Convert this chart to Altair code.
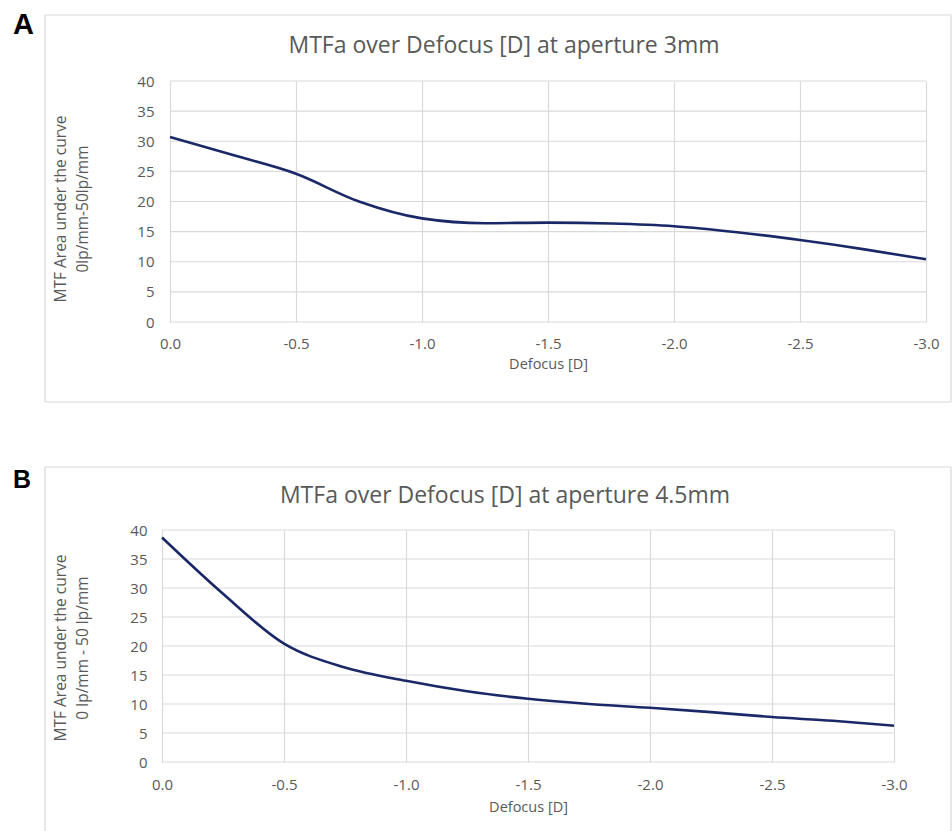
import altair as alt
import pandas as pd

# ---------------- data ----------------
defocus = [0.0, -0.25, -0.5, -0.75, -1.0, -1.25, -1.5, -1.75, -2.0, -2.25, -2.5, -2.75, -3.0]
mtfa_3mm = [30.7, 27.7, 24.6, 20.0, 17.2, 16.4, 16.5, 16.35, 15.9, 14.9, 13.6, 12.1, 10.4]
mtfa_45mm = [38.7, 29.0, 20.4, 16.3, 14.0, 12.2, 10.9, 10.0, 9.35, 8.6, 7.75, 7.1, 6.25]

x_ticks = [0.0, -0.5, -1.0, -1.5, -2.0, -2.5, -3.0]
y_ticks = [0, 5, 10, 15, 20, 25, 30, 35, 40]

titles = ["MTFa over Defocus [D] at aperture 3mm", "MTFa over Defocus [D] at aperture 4.5mm"]
y_titles = [["MTF Area under the curve", "0lp/mm-50lp/mm"],
            ["MTF Area under the curve", "0 lp/mm - 50 lp/mm"]]
x_title = "Defocus [D]"
letters = ["A", "B"]

# ---------------- style ----------------
NAVY = "#1a2868"
GRID = "#d9d9d9"
TXT = "#595959"
FONT = "Open Sans"


def one_row():
    return alt.Data(values=[{"k": 1}])


def text(t, x, y, size, color=TXT, font=FONT, weight="normal", align="center",
         baseline="alphabetic", angle=0):
    return alt.Chart(one_row()).mark_text(
        text=t, font=font, fontSize=size, fontWeight=weight, color=color,
        align=align, baseline=baseline, angle=angle
    ).encode(x=alt.value(x), y=alt.value(y))


def panel(vals, title, ytl, letter, W, H, g):
    df = pd.DataFrame({"defocus": defocus, "mtfa": vals})
    grid_df = pd.DataFrame({"g": y_ticks, "x0": [x_ticks[0]] * len(y_ticks),
                            "x1": [x_ticks[-1]] * len(y_ticks)})
    xscale = alt.Scale(domain=[g["x_left"], x_ticks[-1]], nice=False, zero=False)
    yscale = alt.Scale(domain=[y_ticks[0], y_ticks[-1]], nice=False)
    xaxis = alt.Axis(values=x_ticks,
                     labelExpr="replace(format(datum.value, '.1f'), '\u2212', '-')",
                     title=x_title, titleX=g["xtitle_x"], titleY=g["xtitle_y"],
                     titleBaseline="alphabetic", titleAlign="center",
                     titleFont=FONT, titleFontSize=14.5, titleFontWeight="normal",
                     titleColor=TXT, labelFont=FONT, labelFontSize=15,
                     labelColor=TXT, labelPadding=g["xlabpad"], ticks=False,
                     tickSize=0, grid=True, gridColor=GRID, gridWidth=1.2,
                     domain=False, labelFlush=False)
    yaxis = alt.Axis(values=y_ticks, title=None, labelFont=FONT,
                     labelFontSize=15, labelColor=TXT,
                     labelPadding=g["ylabpad"], ticks=False, tickSize=0,
                     grid=False, domain=False)
    hgrid = alt.Chart(grid_df).mark_rule(color=GRID, strokeWidth=1.2).encode(
        x=alt.X("x0:Q", scale=xscale, axis=xaxis),
        x2="x1:Q",
        y=alt.Y("g:Q", scale=yscale, axis=yaxis),
    )
    line = alt.Chart(df).mark_line(
        color=NAVY, strokeWidth=2.6, interpolate="monotone"
    ).encode(
        x=alt.X("defocus:Q", scale=xscale, axis=xaxis),
        y=alt.Y("mtfa:Q", scale=yscale, axis=yaxis),
        order=alt.Order("defocus:Q", sort="descending"),
    )
    layers = [hgrid, line]
    bx = g["box"]
    if g["closed"]:
        layers.append(alt.Chart(one_row()).mark_rect(
            fillOpacity=0, stroke=GRID, strokeWidth=1.2
        ).encode(x=alt.value(bx[0]), x2=alt.value(bx[1]),
                 y=alt.value(bx[2]), y2=alt.value(bx[3])))
    else:
        rule = alt.Chart(one_row()).mark_rule(color=GRID, strokeWidth=1.2)
        layers.append(rule.encode(x=alt.value(bx[0]), x2=alt.value(bx[1]),
                                  y=alt.value(bx[2]), y2=alt.value(bx[2])))
        layers.append(rule.encode(x=alt.value(bx[0]), x2=alt.value(bx[0]),
                                  y=alt.value(bx[2]), y2=alt.value(bx[3])))
        layers.append(rule.encode(x=alt.value(bx[1]), x2=alt.value(bx[1]),
                                  y=alt.value(bx[2]), y2=alt.value(bx[3])))
    if "anchor" in g:
        ax = g["anchor"]
        layers.append(alt.Chart(one_row()).mark_rect(opacity=0, strokeWidth=0).encode(
            x=alt.value(ax[0]), x2=alt.value(ax[1]), y=alt.value(ax[2]), y2=alt.value(ax[3])))
    layers.append(text(letter, g["letter"][0], g["letter"][1], g["letter"][2],
                       color="#000000", font="Liberation Sans", weight="bold",
                       align="left"))
    layers.append(text(title, g["title"][0], g["title"][1], 23))
    layers.append(text(ytl[0], g["yt1"], g["yt_y"], 15.5, angle=270))
    layers.append(text(ytl[1], g["yt2"], g["yt_y"], 15.5, angle=270))
    return alt.layer(*layers).properties(width=W, height=H)


# panel A: plot area starts 8px left of the 0.0 line so both panels share an origin
geoA = dict(x_left=24 / 756, box=(-117, 789, -66, 321), closed=True,
            anchor=(-162, 790, -81, -80), letter=(-149, -47, 29),
            title=(342, -28), yt1=-96, yt2=-74, yt_y=128,
            xtitle_x=386, xtitle_y=46, xlabpad=14, ylabpad=8)
geoB = dict(x_left=0.0, box=(-117, 789, -63, 301), closed=False,
            letter=(-149, -42, 25),
            title=(343, -27), yt1=-96, yt2=-74, yt_y=118,
            xtitle_x=366, xtitle_y=49, xlabpad=15, ylabpad=15)

chartA = panel(mtfa_3mm, titles[0], y_titles[0], letters[0], 764, 241, geoA)
chartB = panel(mtfa_45mm, titles[1], y_titles[1], letters[1], 732, 232, geoB)

chart = alt.vconcat(chartA, chartB, spacing=208, bounds="flush").properties(
    padding={"left": 0, "top": 0, "right": 0, "bottom": 0},
    background="white",
).configure_view(strokeWidth=0)

chart.save("out.html", embed_options={"renderer": "svg", "actions": False})
